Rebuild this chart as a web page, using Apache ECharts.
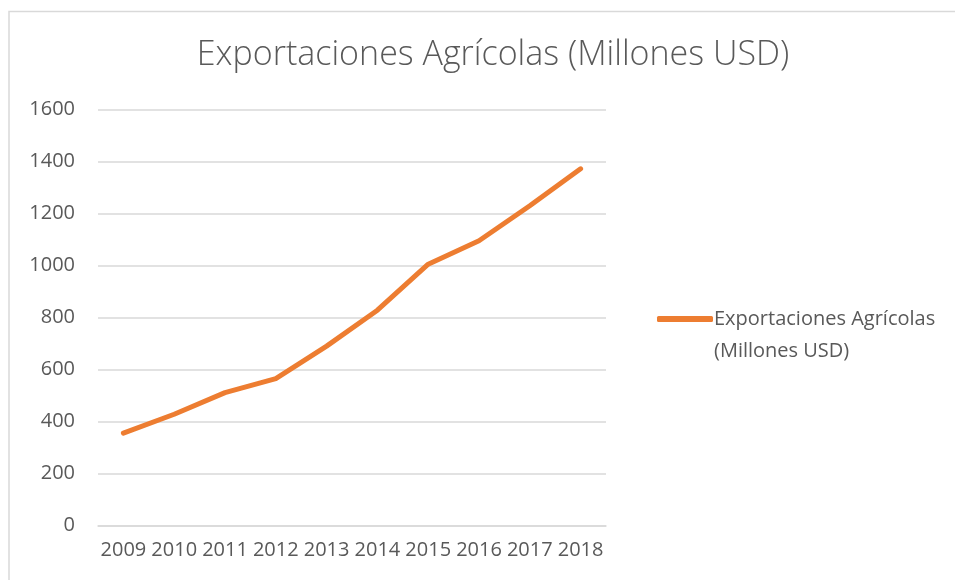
<!DOCTYPE html>
<html>
<head>
<meta charset="utf-8">
<script src="https://cdn.jsdelivr.net/npm/echarts@6/dist/echarts.min.js"></script>
<style>
html,body{margin:0;padding:0;background:#fff;}
#main{width:955px;height:580px;}
</style>
</head>
<body>
<div id="main"></div>
<script>
const chartTitle = 'Exportaciones Agrícolas (Millones USD)';
const seriesName = 'Exportaciones Agrícolas (Millones USD)';
const legendLines = ['Exportaciones Agrícolas', '(Millones USD)'];
const years = ['2009','2010','2011','2012','2013','2014','2015','2016','2017','2018'];
const exportValues = [355, 428, 511, 565, 690, 828, 1005, 1095, 1230, 1372];
const yTicks = [0, 200, 400, 600, 800, 1000, 1200, 1400, 1600];

const FONT = 'Open Sans';
const TXT = '#595959';

const chart = echarts.init(document.getElementById('main'));
chart.setOption({
  backgroundColor: '#fff',
  animation: false,
  graphic: [{
    type: 'rect',
    shape: {x: 9, y: 11.5, width: 1000, height: 1000},
    style: {fill: 'none', stroke: '#d9d9d9', lineWidth: 1.5},
    silent: true
  }],
  title: {
    text: chartTitle,
    left: 488,
    textAlign: 'center',
    top: 33,
    textStyle: {fontFamily: FONT, fontSize: 34, fontWeight: 300, color: TXT}
  },
  legend: {
    left: 652,
    top: 266,
    itemWidth: 56,
    itemHeight: 6,
    itemGap: 0,
    icon: 'roundRect',
    data: [seriesName],
    formatter: function () {
      return '\n' + legendLines.join('\n');
    },
    textStyle: {fontFamily: FONT, fontSize: 20, color: TXT, lineHeight: 32, padding: [0,0,0,-4]}
  },
  grid: {left: 98, right: 349, top: 109.5, bottom: 54.5, containLabel: false},
  xAxis: {
    type: 'category',
    data: years,
    boundaryGap: true,
    axisLine: {show: true, lineStyle: {color: '#d9d9d9', width: 1.5}},
    axisTick: {show: false},
    axisLabel: {fontFamily: FONT, fontSize: 20, color: TXT, margin: 15, interval: 0}
  },
  yAxis: {
    type: 'value',
    min: yTicks[0],
    max: yTicks[yTicks.length - 1],
    interval: 200,
    axisLine: {show: false},
    axisTick: {show: false},
    splitLine: {lineStyle: {color: '#d9d9d9', width: 1.5}},
    axisLabel: {fontFamily: FONT, fontSize: 20, color: TXT, margin: 23, formatter: function (v) { return String(v); }}
  },
  series: [{
    name: seriesName,
    type: 'line',
    data: exportValues,
    symbol: 'none',
    lineStyle: {color: '#ED7D31', width: 5, cap: 'round', join: 'round'},
    itemStyle: {color: '#ED7D31'}
  }]
});
</script>
</body>
</html>
